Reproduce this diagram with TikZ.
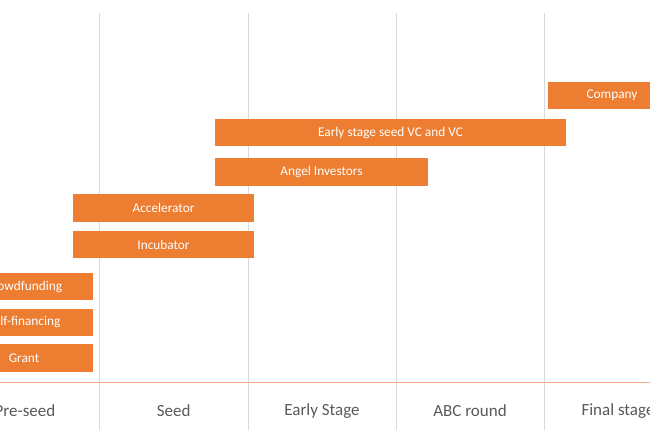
\documentclass[tikz,border=0pt]{standalone}
\usepackage{fontspec}
\setmainfont{Carlito}
\definecolor{barorange}{HTML}{ED7D31}
\definecolor{gridgray}{HTML}{D9D9D9}
\definecolor{axisline}{HTML}{F4B183}
\definecolor{labelgray}{HTML}{595959}
\begin{document}
\begin{tikzpicture}[x=1pt,y=-1pt,
  bar/.style={fill=barorange, draw=none, text=white, inner sep=0pt,
    minimum height=27.5pt, font=\fontsize{13.3}{15}\selectfont},
  gridline/.style={draw=gridgray, line width=1pt},
  stagelabel/.style={text=labelgray, inner sep=0pt, font=\fontsize{17}{20}\selectfont}]
\useasboundingbox (0,0) rectangle (650,430);
\clip (0,0) rectangle (650,430);
% grid lines
\coordinate (g1t) at (99.5,13); \coordinate (g1b) at (99.5,430);
\coordinate (g2t) at (248,13);  \coordinate (g2b) at (248,430);
\coordinate (g3t) at (396,13);  \coordinate (g3b) at (396,430);
\coordinate (g4t) at (544,13);  \coordinate (g4b) at (544,430);
\draw[gridline] (g1t) -- (g1b);
\draw[gridline] (g2t) -- (g2b);
\draw[gridline] (g3t) -- (g3b);
\draw[gridline] (g4t) -- (g4b);
\coordinate (axl) at (0,382.5); \coordinate (axr) at (650,382.5);
\draw[draw=axisline, line width=1pt] (axl) -- (axr);
% bars
\node[bar, minimum width=128pt] (company) at (612,95.5) {Company};
\node[bar, minimum width=351pt] (vc) at (390.5,132.75) {Early stage seed VC and VC};
\node[bar, minimum width=213pt] (angel) at (321.5,172) {Angel Investors};
\node[bar, minimum width=181pt] (accel) at (163.5,208) {Accelerator};
\node[bar, minimum width=181pt] (incub) at (163.5,244.5) {Incubator};
\node[bar, minimum width=138pt] (crowd) at (24,286.7) {Crowdfunding};
\node[bar, minimum width=138pt] (self) at (24,322.3) {Self-financing};
\node[bar, minimum width=138pt] (grant) at (24,358) {Grant};
% stage labels
\node[stagelabel] (preseed) at (25,411) {Pre-seed};
\node[stagelabel] (seed) at (173.75,411) {Seed};
\node[stagelabel] (early) at (322,411) {Early Stage};
\node[stagelabel] (abc) at (470,411) {ABC round};
\node[stagelabel] (final) at (618,411) {Final stage};
\end{tikzpicture}
\end{document}
